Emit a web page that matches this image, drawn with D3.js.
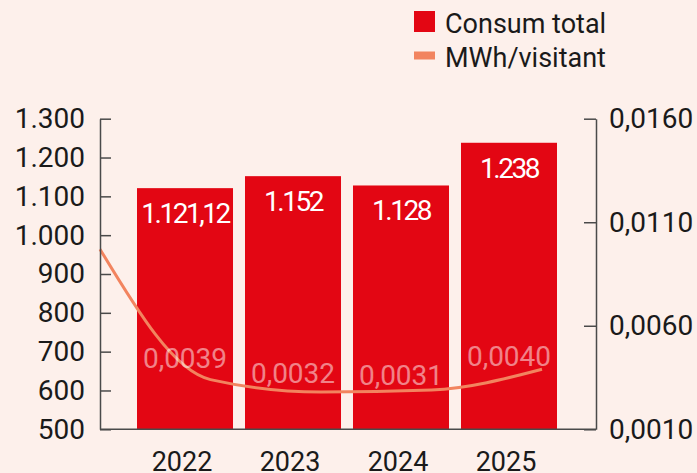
<!DOCTYPE html>
<html>
<head>
<meta charset="utf-8">
<script src="https://cdn.jsdelivr.net/npm/d3@7"></script>
<style>
  html, body { margin: 0; padding: 0; background: #fdf0eb; }
  svg { display: block; font-family: Roboto, "Noto Sans", sans-serif; }
</style>
</head>
<body>
<div id="chart"></div>
<script>
// data
const years = ["2022", "2023", "2024", "2025"];
const consumTotal = [1121.12, 1152, 1128, 1238];
const mwhPerVisitant = [0.0039, 0.0032, 0.0031, 0.0040];
// the curve as it is drawn in the source (5 knots, not aligned to the years)
const mwhCurve = [0.0097, 0.0034, 0.0028, 0.0029, 0.0039];
const leftTicks = [500, 600, 700, 800, 900, 1000, 1100, 1200, 1300];
const rightTicks = [0.0010, 0.0060, 0.0110, 0.0160];
const legendItems = ["Consum total", "MWh/visitant"];

// sizing
const width = 697,
  height = 473;
const plot = { left: 100, right: 596, top: 118.7, bottom: 429.3 };

const red = "#e30613",
  salmon = "#f2845f",
  axisColor = "#4a4a4a",
  textColor = "#1a1a1a";

const locale = d3.formatLocale({ decimal: ",", thousands: ".", grouping: [3], currency: ["", ""] });
const fmtInt = locale.format(",.0f");
const fmtBar = locale.format(",.2~f");
const fmtRatio = locale.format(",.4f");

const svg = d3.select("#chart")
  .append("svg")
  .attr("width", width)
  .attr("height", height);

// scales
const x = d3.scaleBand()
  .domain(years)
  .range([137, 557])
  .paddingInner(0.111)
  .paddingOuter(0);

const yLeft = d3.scaleLinear()
  .domain([500, 1300])
  .range([plot.bottom, plot.top]);

const yRight = d3.scaleLinear()
  .domain([0.0010, 0.0160])
  .range([plot.bottom, plot.top]);

const xCurve = d3.scalePoint()
  .domain(d3.range(mwhCurve.length))
  .range([plot.left, 542]);

// bars
svg.append("g")
  .selectAll("rect")
  .data(years)
  .join("rect")
  .attr("x", d => x(d))
  .attr("y", (d, i) => yLeft(consumTotal[i]))
  .attr("width", x.bandwidth())
  .attr("height", (d, i) => plot.bottom - yLeft(consumTotal[i]))
  .attr("fill", red);

// bar labels
svg.append("g")
  .selectAll("text")
  .data(years)
  .join("text")
  .attr("x", d => x(d) + x.bandwidth() / 2)
  .attr("y", (d, i) => yLeft(consumTotal[i]) + 35)
  .attr("text-anchor", "middle")
  .attr("font-size", "28px")
  .attr("letter-spacing", "-2.5px")
  .attr("fill", "#fff")
  .text((d, i) => fmtBar(consumTotal[i]));

// line
const line = d3.line()
  .x((d, i) => xCurve(i))
  .y(d => yRight(d))
  .curve(d3.curveMonotoneX);

svg.append("path")
  .datum(mwhCurve)
  .attr("d", line)
  .attr("fill", "none")
  .attr("stroke", salmon)
  .attr("stroke-width", 3);

// line labels
svg.append("g")
  .selectAll("text")
  .data(years)
  .join("text")
  .attr("x", d => x(d) + x.bandwidth() / 2)
  .attr("y", (d, i) => yRight(mwhPerVisitant[i]) - 1)
  .attr("text-anchor", "middle")
  .attr("font-size", "28px")
  .attr("fill", "#fff")
  .attr("fill-opacity", 0.5)
  .text((d, i) => fmtRatio(mwhPerVisitant[i]));

// axes
const leftAxis = svg.append("g")
  .attr("transform", `translate(${plot.left},0)`)
  .call(d3.axisLeft(yLeft).tickValues(leftTicks).tickFormat(fmtInt)
    .tickSizeInner(-11).tickSizeOuter(0).tickPadding(15));

const rightAxis = svg.append("g")
  .attr("transform", `translate(${plot.right},0)`)
  .call(d3.axisRight(yRight).tickValues(rightTicks).tickFormat(fmtRatio)
    .tickSizeInner(-12).tickSizeOuter(0).tickPadding(13));

const bottomAxis = svg.append("g")
  .attr("transform", `translate(0,${plot.bottom})`)
  .call(d3.axisBottom(x).tickSize(0).tickPadding(22.7));

// baseline spans both axes
bottomAxis.select(".domain").remove();
svg.append("line")
  .attr("x1", plot.left)
  .attr("x2", plot.right)
  .attr("y1", plot.bottom)
  .attr("y2", plot.bottom)
  .attr("stroke", axisColor)
  .attr("stroke-width", 1.5);

bottomAxis.selectAll("text").attr("dx", -3).attr("font-size", "27px");

[leftAxis, rightAxis, bottomAxis].forEach(g => {
  g.selectAll(".domain, .tick line").attr("stroke", axisColor).attr("stroke-width", 1.5);
  g.selectAll("text").attr("fill", textColor).attr("font-family", "Roboto, sans-serif");
});
leftAxis.selectAll("text").attr("font-size", "28px");
rightAxis.selectAll("text").attr("font-size", "28px");

// legend
const legend = svg.append("g");
const legendRow = legend.selectAll("g")
  .data(legendItems)
  .join("g")
  .attr("transform", (d, i) => `translate(414,${11 + i * 34})`);

legendRow.append("rect")
  .attr("x", 0)
  .attr("y", (d, i) => i === 0 ? 0 : 6.5)
  .attr("width", 21)
  .attr("height", (d, i) => i === 0 ? 21 : 8)
  .attr("fill", (d, i) => i === 0 ? red : salmon);

legendRow.append("text")
  .attr("x", 31)
  .attr("y", 21.7)
  .attr("font-size", "27px")
  .attr("fill", textColor)
  .text(d => d);
</script>
</body>
</html>
